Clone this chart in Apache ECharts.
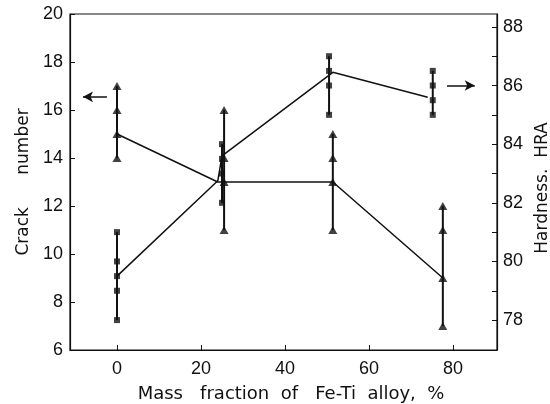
<!DOCTYPE html>
<html>
<head>
<meta charset="utf-8">
<script src="https://cdn.jsdelivr.net/npm/echarts@6/dist/echarts.min.js"></script>
<style>
  html, body { margin: 0; padding: 0; background: #fff; }
  #chart { width: 550px; height: 404px; }
</style>
</head>
<body>
<div id="chart"></div>
<script>
// crack number (left axis, triangles)
const crackX = [0, 25.5, 51.4, 77.6];
const crackVals = [[17, 16, 15, 14], [16, 14, 13, 11], [15, 14, 13, 11], [12, 11, 9, 7]];
const crackLine = [[0, 15], [24, 13], [51.4, 13], [77.6, 9]];

// hardness HRA (right axis, squares)
const hardX = [0, 25, 50.5, 75.2];
const hardVals = [[81, 80, 79.5, 79, 78], [84, 83.5, 83, 82], [87, 86.5, 86, 85], [86.5, 86, 85.5, 85]];
const hardLine = [[0, 79.5], [24, 82.75], [25, 83.6], [51.4, 86.45], [74, 85.6]];

const xTicks = [0, 20, 40, 60, 80];
const hardLabels = [78, 80, 82, 84, 86, 88];
const hardTicks = [78, 79, 80, 81, 82, 83, 84, 85, 86, 87, 88];

const font = 'Liberation Sans, Arial, sans-serif';
const titleFont = 'DejaVu Sans, sans-serif';
const ink = '#111';

function points(xs, vals) {
    const out = [];
    xs.forEach((x, i) => vals[i].forEach(v => out.push([x, v])));
    return out;
}

function ranges(xs, vals) {
    return xs.map((x, i) => [x, Math.min(...vals[i]), Math.max(...vals[i])]);
}

function renderBar(params, api) {
    const a = api.coord([api.value(0), api.value(1)]);
    const b = api.coord([api.value(0), api.value(2)]);
    return {
        type: 'line',
        shape: { x1: a[0], y1: a[1], x2: b[0], y2: b[1] },
        style: { stroke: ink, lineWidth: 2 }
    };
}

const chart = echarts.init(document.getElementById('chart'));

const labelStyle = { fontSize: 18, color: ink, fontFamily: font };

const option = {
    animation: false,
    textStyle: { fontFamily: font, color: ink },
    grid: {
        left: 70, right: 53, top: 14, bottom: 54, outerBoundsMode: 'none',
        show: true, borderColor: ink, borderWidth: 1.2
    },
    xAxis: {
        type: 'value', min: -11.2, max: 90.5,
        name: 'Mass   fraction  of   Fe-Ti  alloy,  %', nameLocation: 'middle', nameGap: 35,
        nameTextStyle: { fontSize: 18, color: ink, fontFamily: titleFont, padding: [0, 0, 0, 15] },
        axisLine: { onZero: false, lineStyle: { color: ink, width: 1.2 } },
        axisTick: { inside: true, length: 5, customValues: xTicks, lineStyle: { color: ink } },
        axisLabel: Object.assign({ customValues: xTicks, margin: 10 }, labelStyle),
        splitLine: { show: false }
    },
    yAxis: [{
        type: 'value', min: 6, max: 20, interval: 2, position: 'left',
        name: 'Crack      number', nameLocation: 'middle', nameGap: 36, nameRotate: 90,
        nameTextStyle: { fontSize: 17, color: ink, fontFamily: titleFont },
        axisLine: { show: true, onZero: false, lineStyle: { color: ink, width: 1.2 } },
        axisTick: { show: true, inside: true, length: 5, lineStyle: { color: ink } },
        axisLabel: Object.assign({ margin: 7 }, labelStyle),
        splitLine: { show: false }
    }, {
        type: 'value', min: 76.98, max: 88.44, position: 'right',
        name: 'Hardness.  HRA', nameLocation: 'middle', nameGap: 34, nameRotate: 90,
        nameTextStyle: { fontSize: 17, color: ink, fontFamily: titleFont, padding: [0, 12, 0, 0] },
        axisLine: { show: true, onZero: false, lineStyle: { color: ink, width: 1.2 } },
        axisTick: { show: true, inside: true, length: 5, customValues: hardTicks, lineStyle: { color: ink } },
        axisLabel: Object.assign({ customValues: hardLabels, margin: 6 }, labelStyle),
        splitLine: { show: false }
    }],
    series: [{
        type: 'custom', yAxisIndex: 0, renderItem: renderBar,
        encode: { x: 0, y: [1, 2] }, data: ranges(crackX, crackVals), z: 2
    }, {
        type: 'custom', yAxisIndex: 1, renderItem: renderBar,
        encode: { x: 0, y: [1, 2] }, data: ranges(hardX, hardVals), z: 2
    }, {
        type: 'line', yAxisIndex: 0, data: crackLine, showSymbol: false,
        lineStyle: { color: ink, width: 1.5 }, z: 1,
        markLine: {
            silent: true, symbol: ['none', 'arrow'], symbolSize: [8, 10],
            label: { show: false }, lineStyle: { color: ink, width: 1.5, type: 'solid' },
            data: [[{ coord: [-2.4, 16.55] }, { coord: [-8.1, 16.55] }]]
        }
    }, {
        type: 'line', yAxisIndex: 1, data: hardLine, showSymbol: false,
        lineStyle: { color: ink, width: 1.5 }, z: 1,
        markLine: {
            silent: true, symbol: ['none', 'arrow'], symbolSize: [8, 10],
            label: { show: false }, lineStyle: { color: ink, width: 1.5, type: 'solid' },
            data: [[{ coord: [78.6, 86] }, { coord: [85.2, 86] }]]
        }
    }, {
        type: 'scatter', yAxisIndex: 0, data: points(crackX, crackVals),
        symbol: 'triangle', symbolSize: [9, 8], itemStyle: { color: ink }, z: 3
    }, {
        type: 'scatter', yAxisIndex: 1, data: points(hardX, hardVals),
        symbol: 'rect', symbolSize: 6, itemStyle: { color: ink }, z: 3
    }]
};

chart.setOption(option);
</script>
</body>
</html>
